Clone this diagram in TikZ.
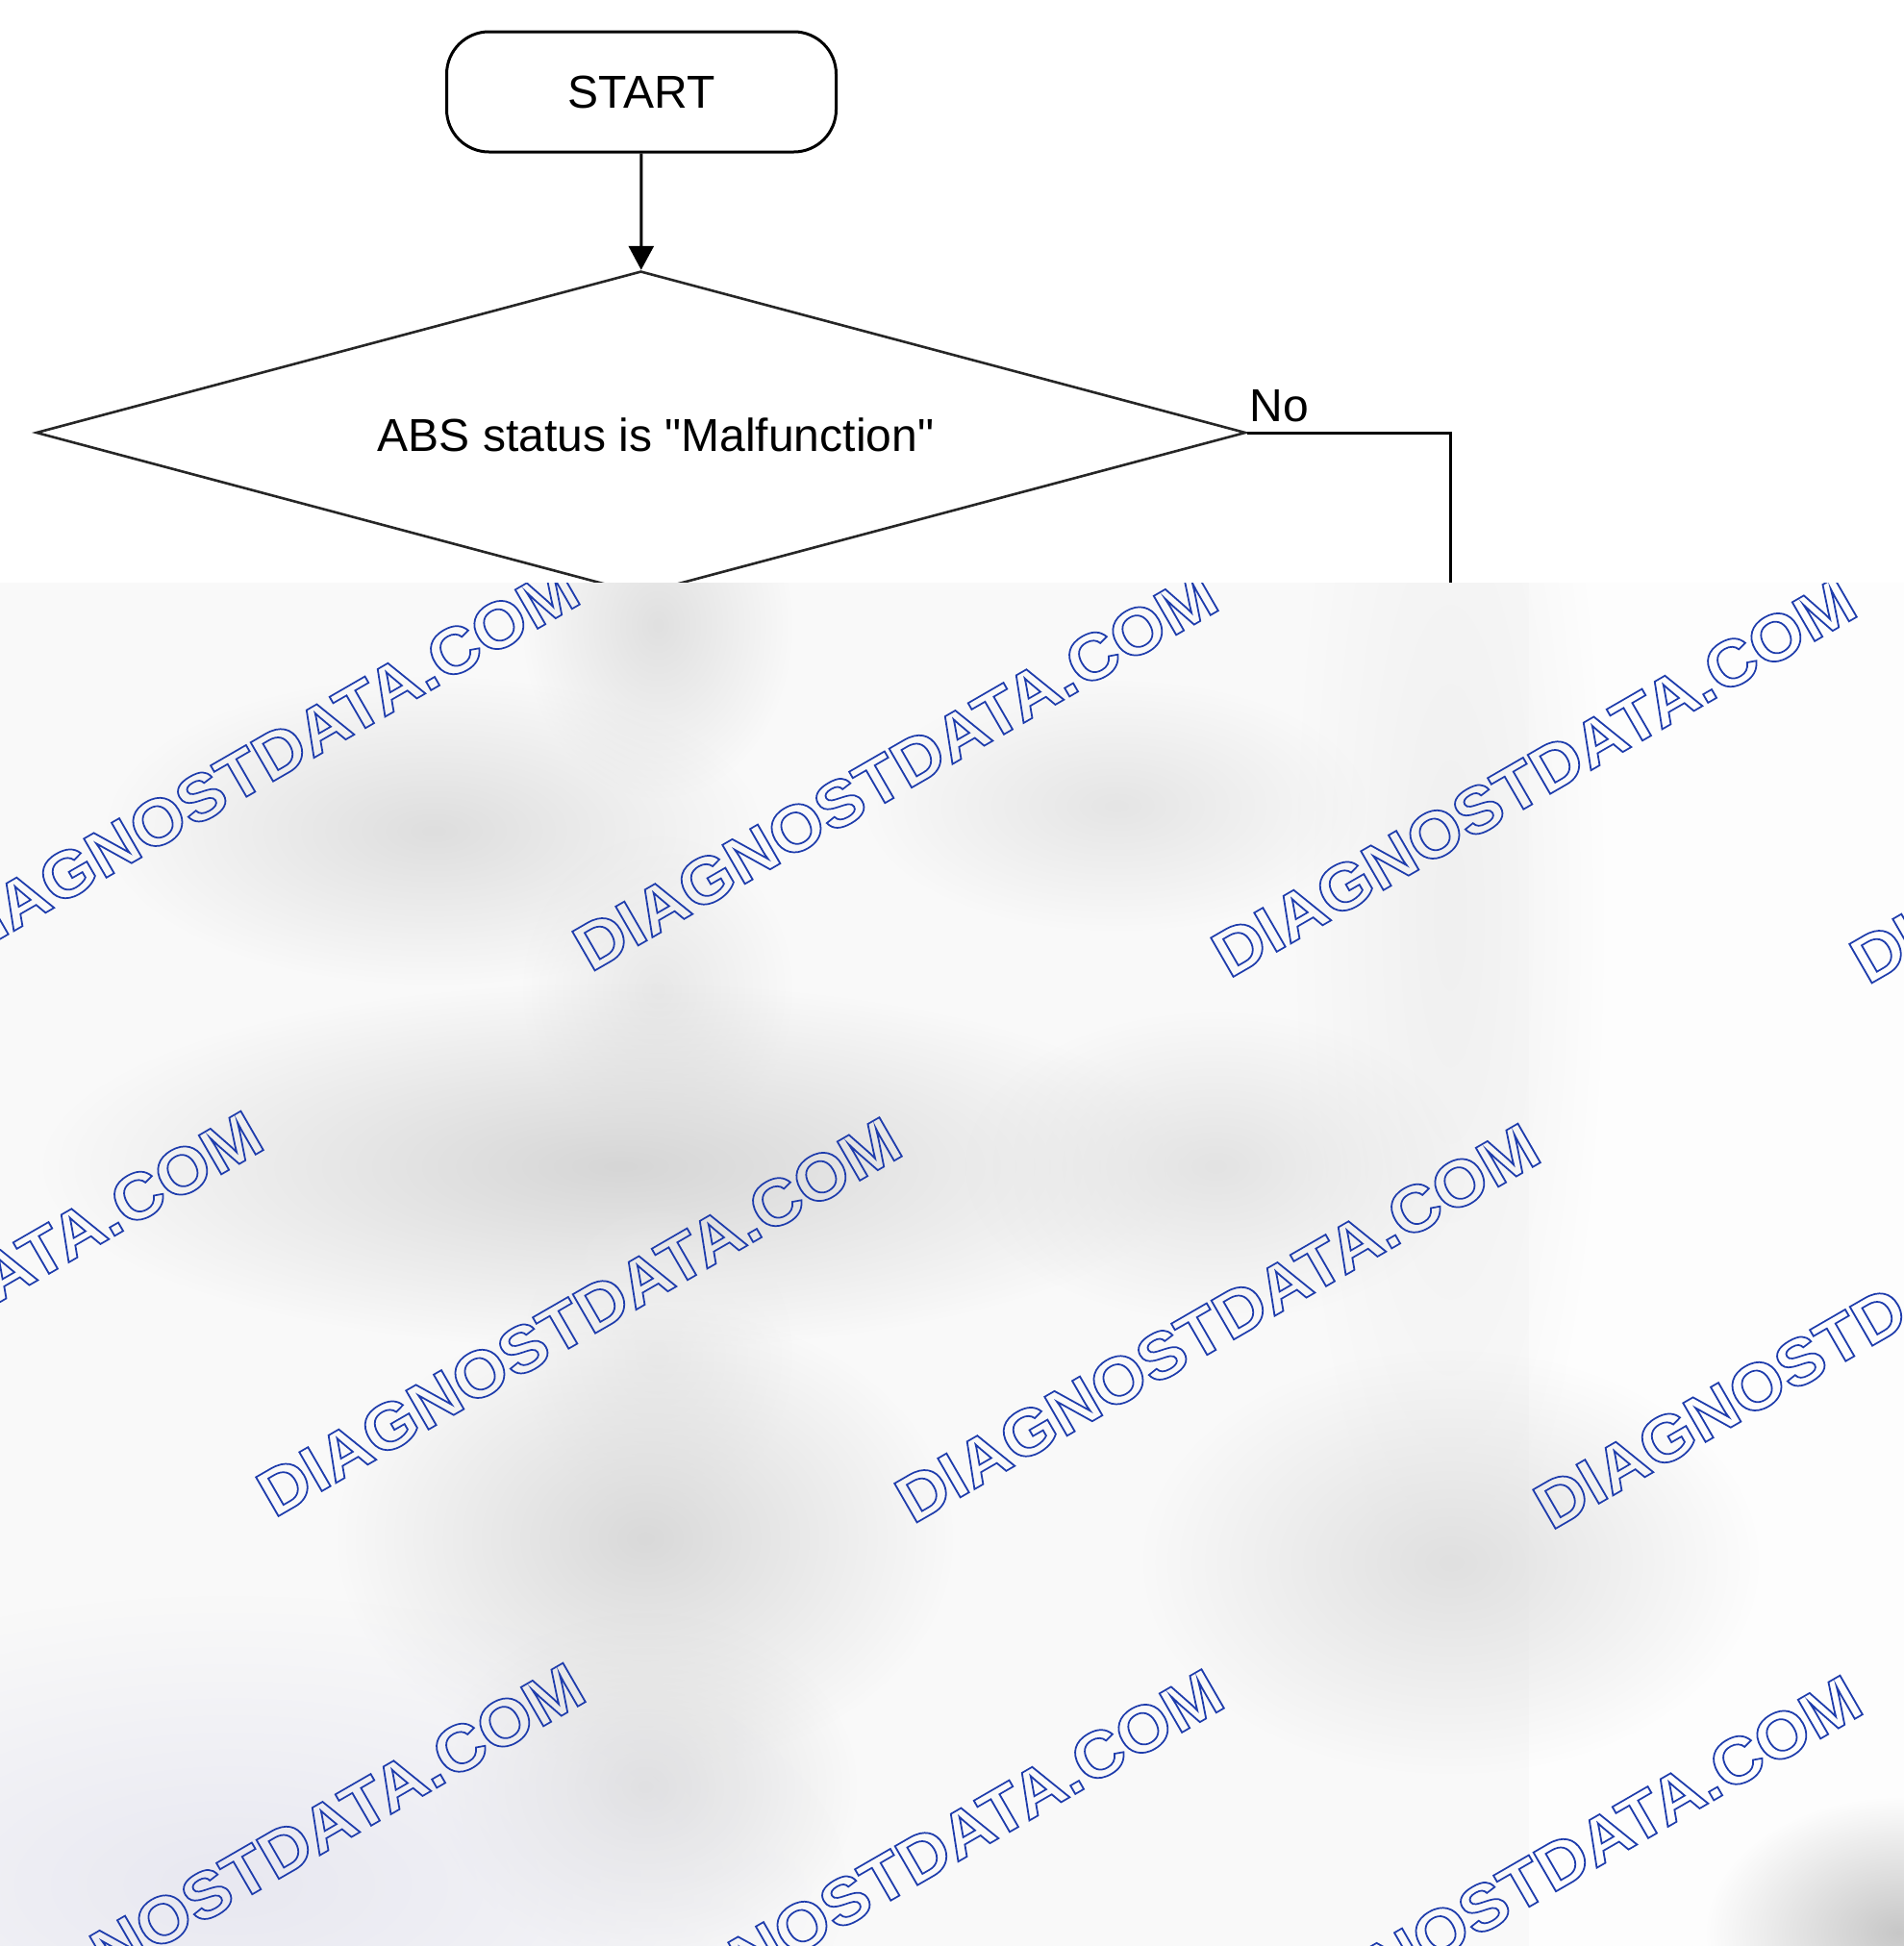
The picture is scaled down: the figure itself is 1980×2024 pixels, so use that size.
\documentclass[tikz,border=0pt]{standalone}
\usepackage{fontspec}
\setmainfont{Liberation Sans}[Ligatures=TeXOff]
\usetikzlibrary{arrows.meta,shapes.geometric,fadings}
\definecolor{wmblue}{RGB}{30,60,172}
\definecolor{blurbg}{HTML}{F9F9F9}
\definecolor{blurwhite}{HTML}{FDFDFD}
\tikzfading[name=softblob, inner color=transparent!0, outer color=transparent!100]
\newcommand\wmtext{\special{pdf:literal direct 1 Tr 0.85 w}DIAGNOSTDATA.COM\special{pdf:literal direct 0 Tr}}
\newcommand\blob[5]{\fill[color=#5, path fading=softblob] (#1,#2) ellipse (#3pt and #4pt);}
\begin{document}
\begin{tikzpicture}[x=0.5pt,y=-0.5pt,
  flow/.style={draw=black, line width=1.5pt},
  startbox/.style={draw=black, line width=1.5pt, rectangle, rounded corners=22pt,
    minimum width=202.5pt, minimum height=62.5pt, inner sep=0pt,
    font=\fontsize{24}{28}\selectfont},
  decision/.style={draw=black!85, line width=1.3pt, diamond, aspect=3.744,
    minimum width=629pt, minimum height=168pt, inner sep=0pt},
  lbl/.style={inner sep=0pt, font=\fontsize{24}{28}\selectfont},
  wm/.style={rotate=30, xscale=1.06, text=wmblue, inner sep=0pt,
    font=\fontsize{34}{38}\selectfont\bfseries}]
\useasboundingbox (0,0) rectangle (1980,2024);
\fill[white] (0,0) rectangle (1980,2024);

% flowchart (visible part)
\node[startbox] (start) at (667,95.5) {START};
\node[decision] (dec) at (666.5,450) {};
\node[lbl, anchor=base] (dectext) at (682,469) {ABS status is "Malfunction"};
\node[lbl, anchor=base west] (no) at (1299,438) {No};
\coordinate (cut) at (1508,620);

\draw[flow, -{Triangle[length=12.5pt,width=13pt]}] (start) -- (dec);
\draw[flow] (dec.east) -| (cut);

% blurred lower region
\begin{scope}
\clip (0,606) rectangle (1980,2024);
\fill[blurwhite] (0,606) rectangle (1980,2024);
\fill[blurbg] (0,606) rectangle (1590,2024);
\blob{1508}{950}{80}{360}{black!6}
\blob{684}{650}{70}{90}{black!12}
\blob{451}{864}{170}{80}{black!13}
\blob{1161}{838}{130}{65}{black!10}
\blob{684}{1030}{70}{80}{black!9}
\blob{645}{1213}{300}{95}{black!16}
\blob{1264}{1213}{130}{80}{black!11}
\blob{684}{1410}{70}{80}{black!7}
\blob{671}{1600}{160}{120}{black!15}
\blob{1509}{1625}{160}{110}{black!12}
\blob{671}{1858}{110}{90}{black!13}
\blob{240}{1960}{320}{150}{blue!40!black!9}
\blob{1975}{2010}{100}{70}{black!22}

% watermarks
\node[wm] (w1) at (267,795.5) {\wmtext};
\node[wm] (w2) at (931,802) {\wmtext};
\node[wm] (w3) at (1595,808.5) {\wmtext};
\node[wm] (w4) at (2259,815) {\wmtext};
\node[wm] (w5) at (-62,1363) {\wmtext};
\node[wm] (w6) at (602,1369.5) {\wmtext};
\node[wm] (w7) at (1266,1376) {\wmtext};
\node[wm] (w8) at (1930,1382.5) {\wmtext};
\node[wm] (w9) at (273,1937) {\wmtext};
\node[wm] (w10) at (937,1943.5) {\wmtext};
\node[wm] (w11) at (1601,1950) {\wmtext};
\end{scope}
\end{tikzpicture}
\end{document}
